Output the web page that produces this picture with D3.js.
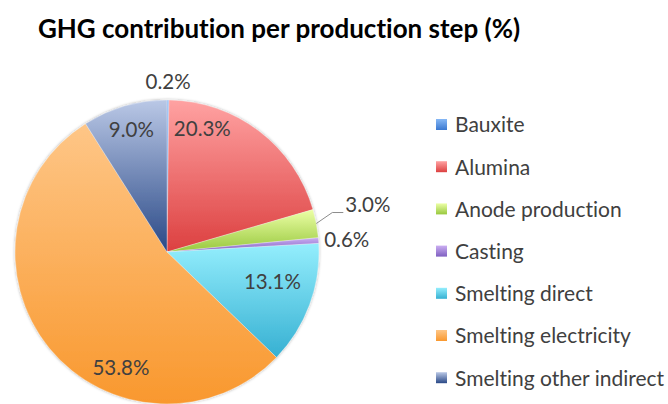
<!DOCTYPE html>
<html>
<head>
<meta charset="utf-8">
<script src="https://cdnjs.cloudflare.com/ajax/libs/d3/7.8.5/d3.min.js"></script>
<style>
  body { margin: 0; background: #fff; }
  svg { display: block; font-family: Lato, 'Open Sans', sans-serif; font-variant-ligatures: none; font-feature-settings: "liga" 0, "clig" 0; }
</style>
</head>
<body>
<div class="canvas"></div>
<script>
// data
const categories = ['Bauxite', 'Alumina', 'Anode production', 'Casting', 'Smelting direct', 'Smelting electricity', 'Smelting other indirect'];
const shares = [0.2, 20.3, 3.0, 0.6, 13.1, 53.8, 9.0];
const labels = ['0.2%', '20.3%', '3.0%', '0.6%', '13.1%', '53.8%', '9.0%'];

// colours: light top -> dark bottom
const topColors = ['#86b8f6', '#ffa2a2', '#ecffa6', '#cbaef2', '#94eefd', '#fec687', '#bac8e6'];
const bottomColors = ['#3a78d0', '#dc4040', '#98c83e', '#7e5fc0', '#36b0d2', '#f9982e', '#294886'];

// where each label sits (fraction along slice, radius factor)
const labelT = [0.5, 0.21, 0.5, 0.74, 0.4, 0.35, 0.5];
const labelR = [1.12, 0.84, 1.0, 1.185, 0.72, 0.82, 0.84];

const width = 668, height = 404;
const cx = 167, cy = 252, radius = 152;

const svg = d3.select('.canvas')
  .append('svg')
  .attr('width', width)
  .attr('height', height);

const defs = svg.append('defs');

categories.forEach((c, i) => {
  const g = defs.append('linearGradient')
    .attr('id', `grad${i}`)
    .attr('x1', 0).attr('y1', 0)
    .attr('x2', 0).attr('y2', 1);
  g.append('stop').attr('offset', '0%').attr('stop-color', topColors[i]);
  g.append('stop').attr('offset', '100%').attr('stop-color', bottomColors[i]);
});

const shadow = defs.append('filter')
  .attr('id', 'shadow')
  .attr('x', '-10%').attr('y', '-10%')
  .attr('width', '120%').attr('height', '120%');
shadow.append('feDropShadow')
  .attr('dx', 0).attr('dy', 0)
  .attr('stdDeviation', 1.5)
  .attr('flood-color', '#000')
  .attr('flood-opacity', 0.35);

// title
svg.append('text')
  .attr('x', 279)
  .attr('y', 38)
  .attr('text-anchor', 'middle')
  .attr('font-size', 26)
  .attr('font-weight', 'bold')
  .attr('fill', '#000')
  .text('GHG contribution per production step (%)');

const data = categories.map((c, i) => ({ name: c, value: shares[i], i }));

const pie = d3.pie()
  .sort(null)
  .value(d => d.value);

const arcs = pie(data);

const arc = d3.arc()
  .innerRadius(0)
  .outerRadius(radius);

const graph = svg.append('g')
  .attr('transform', `translate(${cx}, ${cy})`);

graph.append('g')
  .attr('filter', 'url(#shadow)')
  .selectAll('path')
  .data(arcs)
  .enter()
  .append('path')
  .attr('d', arc)
  .attr('fill', d => `url(#grad${d.data.i})`)
  .attr('stroke', 'rgba(255,255,255,0.5)')
  .attr('stroke-width', 0.6);

// labels
const labelPoint = (d, rf) => {
  const i = d.data.i;
  const a = d.startAngle + (d.endAngle - d.startAngle) * labelT[i];
  const r = radius * rf;
  return [r * Math.sin(a), -r * Math.cos(a)];
};

// leader line for the anode slice
const anode = arcs[2];
const edge = labelPoint(anode, 1.0);
const elbow = [edge[0] + 16, edge[1] - 11];
const lineEnd = [elbow[0] + 11, elbow[1]];
graph.append('polyline')
  .attr('points', [edge, elbow, lineEnd].map(p => p.join(',')).join(' '))
  .attr('fill', 'none')
  .attr('stroke', '#8c8c8c')
  .attr('stroke-width', 1);

graph.selectAll('text.lbl')
  .data(arcs)
  .enter()
  .append('text')
  .attr('class', 'lbl')
  .attr('x', d => d.data.i === 2 ? lineEnd[0] + 2 : labelPoint(d, labelR[d.data.i])[0])
  .attr('y', d => d.data.i === 2 ? lineEnd[1] - 8 : labelPoint(d, labelR[d.data.i])[1])
  .attr('dy', '0.35em')
  .attr('text-anchor', d => d.data.i === 2 ? 'start' : 'middle')
  .attr('font-size', 20.5)
  .attr('fill', '#404040')
  .text(d => labels[d.data.i]);

// legend
const legend = svg.append('g')
  .attr('transform', 'translate(436, 125)');

const items = legend.selectAll('g')
  .data(data)
  .enter()
  .append('g')
  .attr('transform', (d, i) => `translate(0, ${i * 42.2})`);

items.append('rect')
  .attr('x', 0)
  .attr('y', -6)
  .attr('width', 11)
  .attr('height', 11)
  .attr('fill', d => `url(#grad${d.i})`);

items.append('text')
  .attr('x', 19)
  .attr('y', 0)
  .attr('dy', '0.35em')
  .attr('font-size', 21)
  .attr('fill', '#404040')
  .text(d => d.name);
</script>
</body>
</html>
